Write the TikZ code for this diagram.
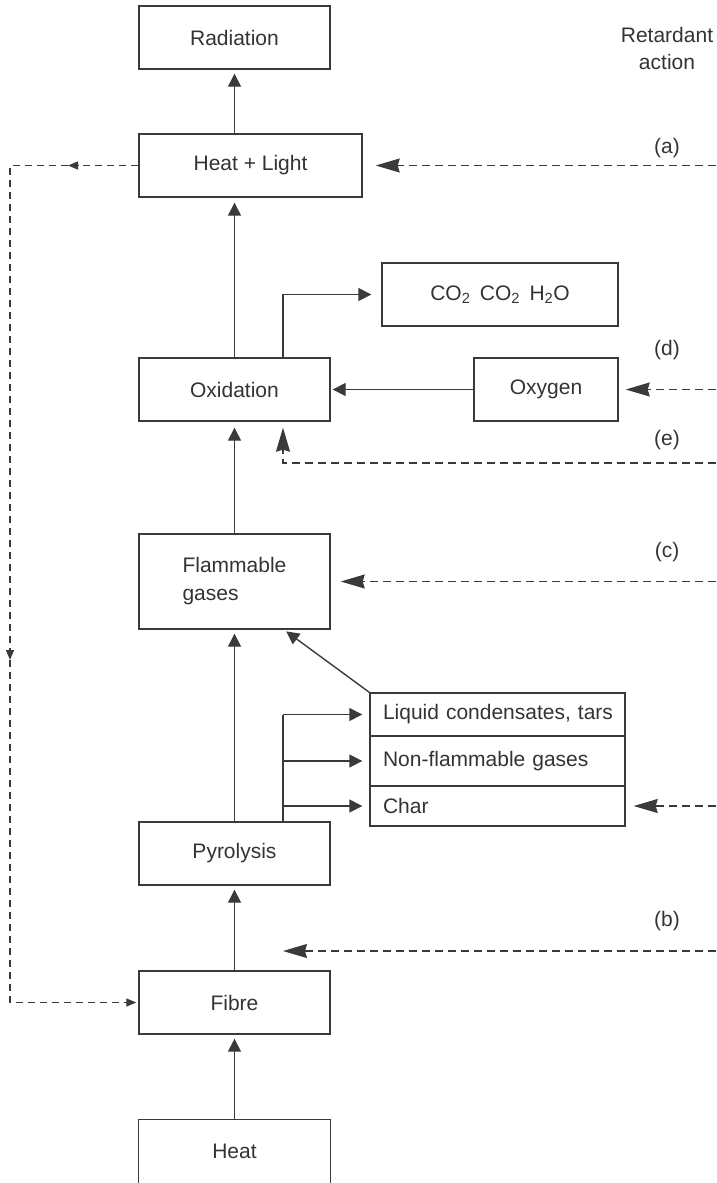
\documentclass[tikz,border=0pt]{standalone}
\usepackage{fontspec}
\setmainfont{Liberation Sans}
\usetikzlibrary{arrows.meta}
\definecolor{lc}{HTML}{3A3A3A}
\definecolor{tc}{HTML}{333333}
\newcommand{\rowpad}{\hspace*{13pt}}
\tikzset{
  box/.style={draw=lc, line width=1.4pt, minimum width=191pt, minimum height=63pt, inner sep=0pt, text=tc},
  rowbox/.style={draw=lc, line width=1.4pt, text width=255pt, align=left, inner xsep=0pt, inner ysep=0pt, text=tc},
  lbl/.style={text=tc, inner sep=0pt},
  sarrow/.style={draw=lc, line width=1.4pt, -{Triangle[length=13pt,width=13pt]}},
  sline/.style={draw=lc, line width=1.4pt},
  rarrow/.style={draw=lc, line width=1.4pt, dash pattern=on 8pt off 5pt, -{Stealth[length=24pt,width=14pt,inset=2pt]}},
  larrow/.style={draw=lc, line width=1.3pt, dash pattern=on 7pt off 5pt, -{Triangle[length=10pt,width=8pt]}}
}
\begin{document}
\begin{tikzpicture}[x=1pt,y=-1pt,font=\fontsize{21}{28}\selectfont]
\useasboundingbox (0,0) rectangle (716,1183);
% main boxes
\node[box] (rad) at (234.5,37.5) {Radiation};
\node[box, minimum width=223pt] (hl) at (250.5,165.5) {Heat + Light};
\node[box, minimum width=236pt] (co) at (500,294.5) {CO\textsubscript{2}\hspace{0.45em}CO\textsubscript{2}\hspace{0.45em}H\textsubscript{2}O};
\node[box] (ox) at (234.5,389.5) {Oxidation};
\node[box, minimum width=144pt] (oxy) at (546,389.5) {Oxygen};
\node[box, minimum height=95pt, align=left] (fg) at (234.5,581.5) {Flammable\\gases};
\node[rowbox, minimum height=43pt] (liq) at (497.5,714.5) {\rowpad Liquid condensates, tars};
\node[rowbox, minimum height=50pt] (non) at (497.5,761) {\rowpad Non-flammable gases};
\node[rowbox, minimum height=40pt] (char) at (497.5,806) {\rowpad Char};
\node[box] (pyro) at (234.5,853.5) {Pyrolysis};
\node[box] (fibre) at (234.5,1002.5) {Fibre};
\node[box, draw=none] (heat) at (234.5,1151.5) {Heat};
\draw[sline] (heat.south west) -- (heat.north west) -- (heat.north east) -- (heat.south east);
% labels
\node[lbl, align=center, font=\fontsize{21}{27}\selectfont] (ret) at (667,48) {Retardant\\action};
\node[lbl] (la) at (667,148) {(a)};
\node[lbl] (ld) at (667,350) {(d)};
\node[lbl] (le) at (667,440) {(e)};
\node[lbl] (lc) at (667,552) {(c)};
\node[lbl] (lb) at (667,921) {(b)};
% solid flow arrows
\draw[sarrow, shorten >=4pt] (hl.north -| rad.south) -- (rad.south);
\draw[sarrow, shorten >=5pt] (ox.north) -- (ox.north |- hl.south);
\coordinate (oxr) at (283,358);
\coordinate (oxc) at (283,294.5);
\draw[sarrow, shorten >=10pt] (oxr) -- (oxc) -- (co.west);
\draw[sarrow, shorten >=2pt] (oxy.west) -- (ox.east);
\draw[sarrow, shorten >=6pt] (fg.north) -- (ox.south);
\draw[sarrow, shorten >=4pt] (pyro.north) -- (fg.south);
\coordinate (fgin) at (283,629);
\draw[sarrow, shorten >=4pt] (liq.north west) -- (fgin);
\coordinate (br) at (283,822);
\coordinate (brtop) at (283,714.5);
\draw[sline] (br) -- (brtop);
\draw[sarrow, shorten >=7pt] (brtop) -- (liq.west);
\draw[sarrow, shorten >=7pt] (br |- non.west) -- (non.west);
\draw[sarrow, shorten >=7pt] (br |- char.west) -- (char.west);
\draw[sarrow, shorten >=4pt] (fibre.north) -- (pyro.south);
\draw[sarrow, shorten >=4pt] (heat.north) -- (fibre.south);
% retardant actions
\coordinate (ra) at (716,165.5);
\coordinate (rd) at (716,389.5);
\coordinate (re) at (716,463);
\coordinate (ebend) at (283,463);
\coordinate (rc) at (716,581.5);
\coordinate (rch) at (716,806);
\coordinate (rb) at (716,951);
\coordinate (btip) at (283,951);
\draw[rarrow, shorten >=13pt] (ra) -- (hl.east);
\draw[rarrow, shorten >=7pt] (rd) -- (oxy.east);
\draw[rarrow, shorten >=6pt] (re) -- (ebend) -- (ebend |- ox.south);
\draw[rarrow, shorten >=10pt] (rc) -- (fg.east);
\draw[rarrow, shorten >=8pt] (rch) -- (char.east);
\draw[rarrow] (rb) -- (btip);
% feedback loop
\coordinate (l1) at (68,165.5);
\coordinate (l2) at (10,165.5);
\coordinate (l3) at (10,660);
\coordinate (l4) at (10,1002.5);
\draw[larrow] (hl.west) -- (l1);
\draw[larrow] (l1) -- (l2) -- (l3);
\draw[larrow, shorten >=2pt] (l3) -- (l4) -- (fibre.west);
\end{tikzpicture}
\end{document}
